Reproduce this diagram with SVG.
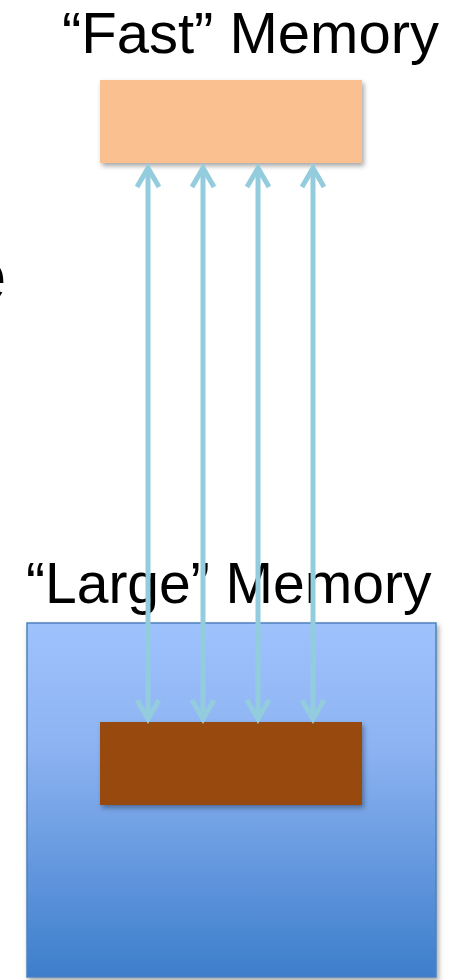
<svg xmlns="http://www.w3.org/2000/svg" width="451" height="980" viewBox="0 0 451 980">
<defs>
<style>
.lbl{font-family:"Liberation Sans",Arial,sans-serif;fill:#000;}
.conn{stroke:#93CDDD;stroke-width:5;fill:none;}
</style>
<linearGradient id="lg" x1="0" y1="0" x2="0" y2="1">
<stop offset="0" stop-color="#9EC2FC"/>
<stop offset="0.35" stop-color="#8DB3F2"/>
<stop offset="1" stop-color="#3D7ECB"/>
</linearGradient>
<filter id="sh" x="-10%" y="-10%" width="130%" height="130%">
<feDropShadow dx="2" dy="3" stdDeviation="2.5" flood-color="#000" flood-opacity="0.35"/>
</filter>
<marker id="ah" markerUnits="userSpaceOnUse" markerWidth="40" markerHeight="40" refX="0" refY="0" viewBox="-25 -20 30 40" orient="auto-start-reverse" overflow="visible">
<path d="M-19,-11 L0,0 L-19,11" fill="none" stroke="#93CDDD" stroke-width="5" stroke-linejoin="miter" stroke-linecap="butt"/>
</marker>
</defs>
<text class="lbl" x="-35" y="301" font-size="75">e</text>
<g id="fast-label"><text class="lbl" x="62" y="53" font-size="58">“Fast” Memory</text></g>
<g id="fast-memory"><rect x="100" y="80" width="262" height="83" fill="#FAC090" filter="url(#sh)"/></g>
<g id="large-label"><text class="lbl" x="26" y="603" font-size="57">“Large” Memory</text></g>
<g id="large-memory"><rect x="27" y="623" width="409" height="354" fill="url(#lg)" stroke="#4F81BD" stroke-width="1.5" filter="url(#sh)"/></g>
<g id="block"><rect x="100" y="722" width="262" height="83" fill="#984807" filter="url(#sh)"/></g>
<g id="connectors">
<line class="conn" x1="148" y1="168" x2="148" y2="719" marker-start="url(#ah)" marker-end="url(#ah)"/>
<line class="conn" x1="203" y1="168" x2="203" y2="719" marker-start="url(#ah)" marker-end="url(#ah)"/>
<line class="conn" x1="258" y1="168" x2="258" y2="719" marker-start="url(#ah)" marker-end="url(#ah)"/>
<line class="conn" x1="313" y1="168" x2="313" y2="719" marker-start="url(#ah)" marker-end="url(#ah)"/>
</g>
</svg>
